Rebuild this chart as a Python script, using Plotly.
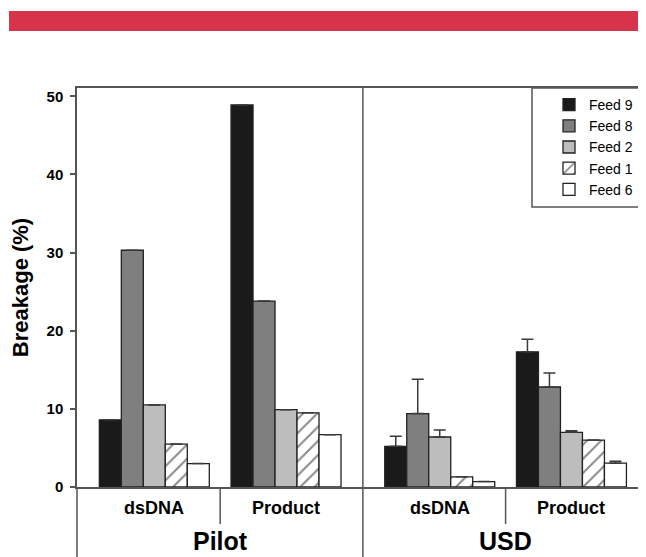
import plotly.graph_objects as go

# ---- data ----
feeds = ["Feed 9", "Feed 8", "Feed 2", "Feed 1", "Feed 6"]
groups = ["dsDNA", "Product", "dsDNA", "Product"]
scales = ["Pilot", "USD"]

feed9 = [8.6, 48.9, 5.2, 17.3]
feed8 = [30.3, 23.8, 9.4, 12.8]
feed2 = [10.5, 9.9, 6.4, 7.0]
feed1 = [5.5, 9.5, 1.3, 6.0]
feed6 = [3.0, 6.7, 0.7, 3.05]

feed9_err = [0, 0, 1.3, 1.6]
feed8_err = [0, 0, 4.4, 1.8]
feed2_err = [0, 0, 0.9, 0.2]
feed1_err = [0, 0, 0, 0]
feed6_err = [0, 0, 0, 0.25]

yticks = [0, 10, 20, 30, 40, 50]

# ---- layout helpers (screen pixels; page body has an 8px margin) ----
OFF = 8
SW, SH = 646, 557
W, H = SW - OFF, SH - OFF
PL, PR, PT, PB = 77, 646, 88, 487   # plot box in screen pixels
ML, MR, MT, MB = PL - OFF, SW - PR, PT - OFF, SH - PB
PW, PH = PR - PL, PB - PT
def px_x(p):
    return (p - PL) / PW
def px_y(p):
    return (PB - p) / PH

extra_gap = 0.167
xpos = [i + (extra_gap if i >= 2 else 0) for i in range(len(groups))]
x_range = [-0.587, 3.733]

series = [feed9, feed8, feed2, feed1, feed6]
errs = [feed9_err, feed8_err, feed2_err, feed1_err, feed6_err]
fills = ["#1a1a1a", "#7f7f7f", "#bdbdbd", "white", "white"]
patterns = ["", "", "", "/", ""]

fig = go.Figure()
for name, vals, err, col, pat in zip(feeds, series, errs, fills, patterns):
    marker = dict(color=col, line=dict(color="#222", width=1.3))
    if pat:
        marker["pattern"] = dict(shape=pat, fgcolor="#111", bgcolor="white",
                                 size=10, solidity=0.2)
    fig.add_trace(go.Bar(
        x=xpos, y=vals, name=name, marker=marker,
        error_y=dict(type="data", symmetric=False, array=err,
                     arrayminus=[0] * len(err), color="#3a3a3a",
                     thickness=1.5, width=6),
    ))

line_col = "#555"
shapes = []
# red banner
shapes.append(dict(type="rect", xref="paper", yref="paper",
                   x0=px_x(9), x1=px_x(SW + 5), y0=px_y(31), y1=px_y(11),
                   fillcolor="#D7334A", line=dict(width=0)))
# left axis extension below plot
shapes.append(dict(type="line", xref="paper", yref="paper",
                   x0=0, x1=0, y0=0, y1=px_y(SH + 5),
                   line=dict(color=line_col, width=1.5)))
# main divider between Pilot and USD
mid_main = (xpos[1] + xpos[2]) / 2
shapes.append(dict(type="line", xref="x", yref="paper",
                   x0=mid_main, x1=mid_main, y0=px_y(SH + 5), y1=1,
                   line=dict(color=line_col, width=1.5)))
# sub dividers
for a, b in [(0, 1), (2, 3)]:
    m = (xpos[a] + xpos[b]) / 2
    shapes.append(dict(type="line", xref="x", yref="paper",
                       x0=m, x1=m, y0=0, y1=px_y(524),
                       line=dict(color=line_col, width=1.5)))
# legend box
shapes.append(dict(type="rect", xref="paper", yref="paper",
                   x0=px_x(532), x1=px_x(SW + 5), y0=px_y(207), y1=1,
                   line=dict(color=line_col, width=1.5)))

annotations = []
for xp, g in zip(xpos, groups):
    annotations.append(dict(x=xp, y=px_y(508), xref="x", yref="paper",
                            xanchor="center", yanchor="middle",
                            text=g, showarrow=False,
                            font=dict(family="Arial", size=18, color="black",
                                      weight="bold")))
for k, s in enumerate(scales):
    c = (xpos[2 * k] + xpos[2 * k + 1]) / 2
    annotations.append(dict(x=c, y=px_y(541), xref="x", yref="paper",
                            xanchor="center", yanchor="middle",
                            text=s, showarrow=False,
                            font=dict(family="Arial", size=25, color="black",
                                      weight="bold")))

fig.update_layout(
    width=W, height=H,
    margin=dict(l=ML, r=MR, t=MT, b=MB, pad=0, autoexpand=False),
    paper_bgcolor="white", plot_bgcolor="white",
    barmode="group", bargap=0.165, bargroupgap=0,
    font=dict(family="Arial", color="black"),
    showlegend=True,
    legend=dict(x=px_x(549), y=px_y(89), xanchor="left", yanchor="top",
                bgcolor="rgba(0,0,0,0)", borderwidth=0,
                font=dict(family="Arial", size=14, color="black"),
                tracegroupgap=0),
    xaxis=dict(range=x_range, showticklabels=False, ticks="",
               showline=True, linecolor=line_col, linewidth=1.5, mirror=True,
               showgrid=False, zeroline=False),
    yaxis=dict(range=[0, 51.07], tickvals=yticks, ticks="outside", ticklen=5,
               tickcolor=line_col, tickwidth=1.5,
               showline=True, linecolor=line_col, linewidth=1.5,
               showgrid=False, zeroline=False, ticklabelstandoff=4,
               tickfont=dict(family="Arial", size=15, color="black",
                             weight="bold"),
               title=dict(text="Breakage (%)", standoff=12,
                          font=dict(family="Arial", size=22, color="black",
                                    weight="bold"))),
    shapes=shapes, annotations=annotations,
)

fig.write_html("out.html")
